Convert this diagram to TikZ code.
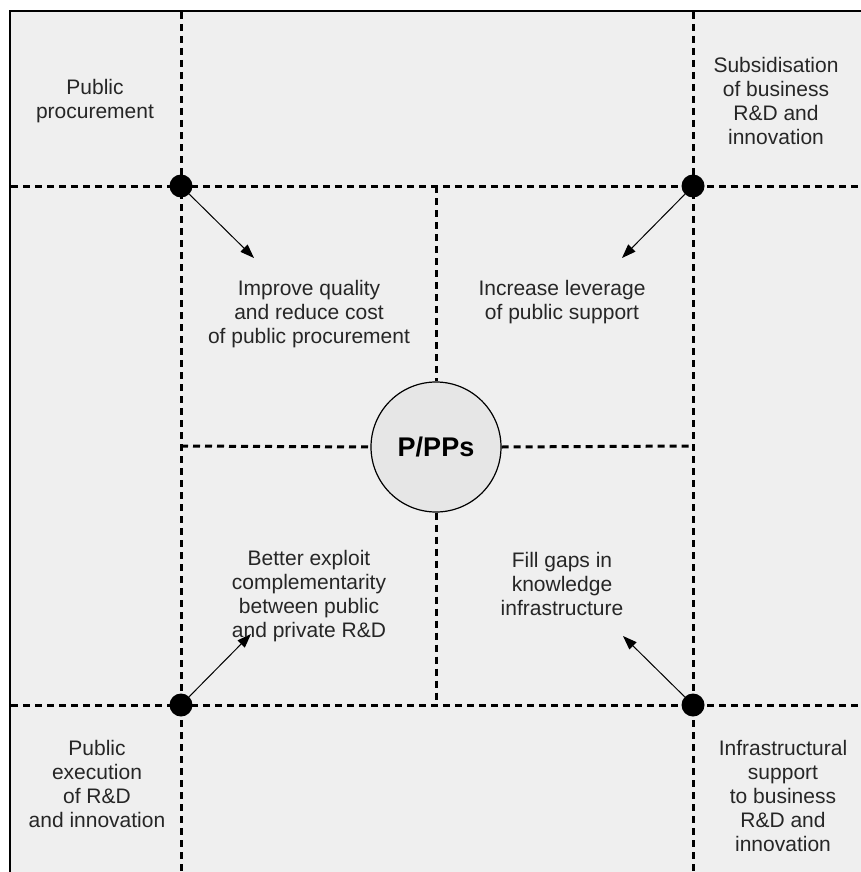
\documentclass[tikz,border=0pt]{standalone}
\usepackage{fontspec}
\setmainfont{Liberation Sans}
\usetikzlibrary{arrows.meta}
\definecolor{bgc}{HTML}{EFEFEF}
\definecolor{circc}{HTML}{E6E6E6}
\begin{document}
\begin{tikzpicture}[x=1pt,y=-1pt,
  gridline/.style={line width=3pt,dash pattern=on 7pt off 5pt},
  dotnode/.style={circle,fill=black,inner sep=0pt,minimum size=23pt},
  lbl/.style={align=center,font=\fontsize{21}{24}\selectfont,text=black!85,inner sep=0pt},
  pointer/.style={line width=1pt,-{Triangle[length=14pt,width=10pt]}}
]
\useasboundingbox (0,0) rectangle (861,872);
\fill[bgc] (10,11) rectangle (861,872);
\draw[line width=2.2pt] (10,872) -- (10,11) -- (861,11);

% grid coordinates
\coordinate (t1) at (181,12);
\coordinate (t2) at (693,12);
\coordinate (b1) at (181,872);
\coordinate (b2) at (693,872);
\coordinate (l1) at (11,186);
\coordinate (l2) at (11,705);
\coordinate (r1) at (861,186);
\coordinate (r2) at (861,705);
\coordinate (mt) at (436,186);
\coordinate (mb) at (436,705);
\coordinate (ml) at (181,446);
\coordinate (mr) at (693,446);

\node[circle,draw=black,line width=1.2pt,fill=circc,minimum size=130pt,inner sep=0pt,
      font=\fontsize{27}{30}\selectfont\bfseries] (ppp) at (436,447) {P/PPs};

\draw[gridline] (t1) -- (b1);
\draw[gridline] (t2) -- (b2);
\draw[gridline] (l1) -- (r1);
\draw[gridline] (l2) -- (r2);
\draw[gridline] (mt) -- (ppp.north);
\draw[gridline] (ppp.south) -- (mb);
\draw[gridline] (ml) -- (ppp.west);
\draw[gridline] (ppp.east) -- (mr);

\node[dotnode] (dtl) at (181,186) {};
\node[dotnode] (dtr) at (693,186) {};
\node[dotnode] (dbl) at (181,705) {};
\node[dotnode] (dbr) at (693,705) {};

\coordinate (atl) at (254,258);
\coordinate (atr) at (622,258);
\coordinate (abl) at (251,634);
\coordinate (abr) at (623,636);
\draw[pointer] (dtl) -- (atl);
\draw[pointer] (dtr) -- (atr);
\draw[pointer] (dbl) -- (abl);
\draw[pointer] (dbr) -- (abr);

\node[lbl] (c1) at (95,101) {Public\\procurement};
\node[lbl] (c2) at (776,101) {Subsidisation\\of business\\R\&D and\\innovation};
\node[lbl] (c3) at (97,784) {Public\\execution\\of R\&D\\and innovation};
\node[lbl] (c4) at (783,796) {Infrastructural\\support\\to business\\R\&D and\\innovation};
\node[lbl] (q1) at (309,314) {Improve quality\\and reduce cost\\of public procurement};
\node[lbl] (q2) at (562,302) {Increase leverage\\of public support};
\node[lbl] (q3) at (309,596) {Better exploit\\complementarity\\between public\\and private R\&D};
\node[lbl] (q4) at (562,584) {Fill gaps in\\knowledge\\infrastructure};
\end{tikzpicture}
\end{document}
